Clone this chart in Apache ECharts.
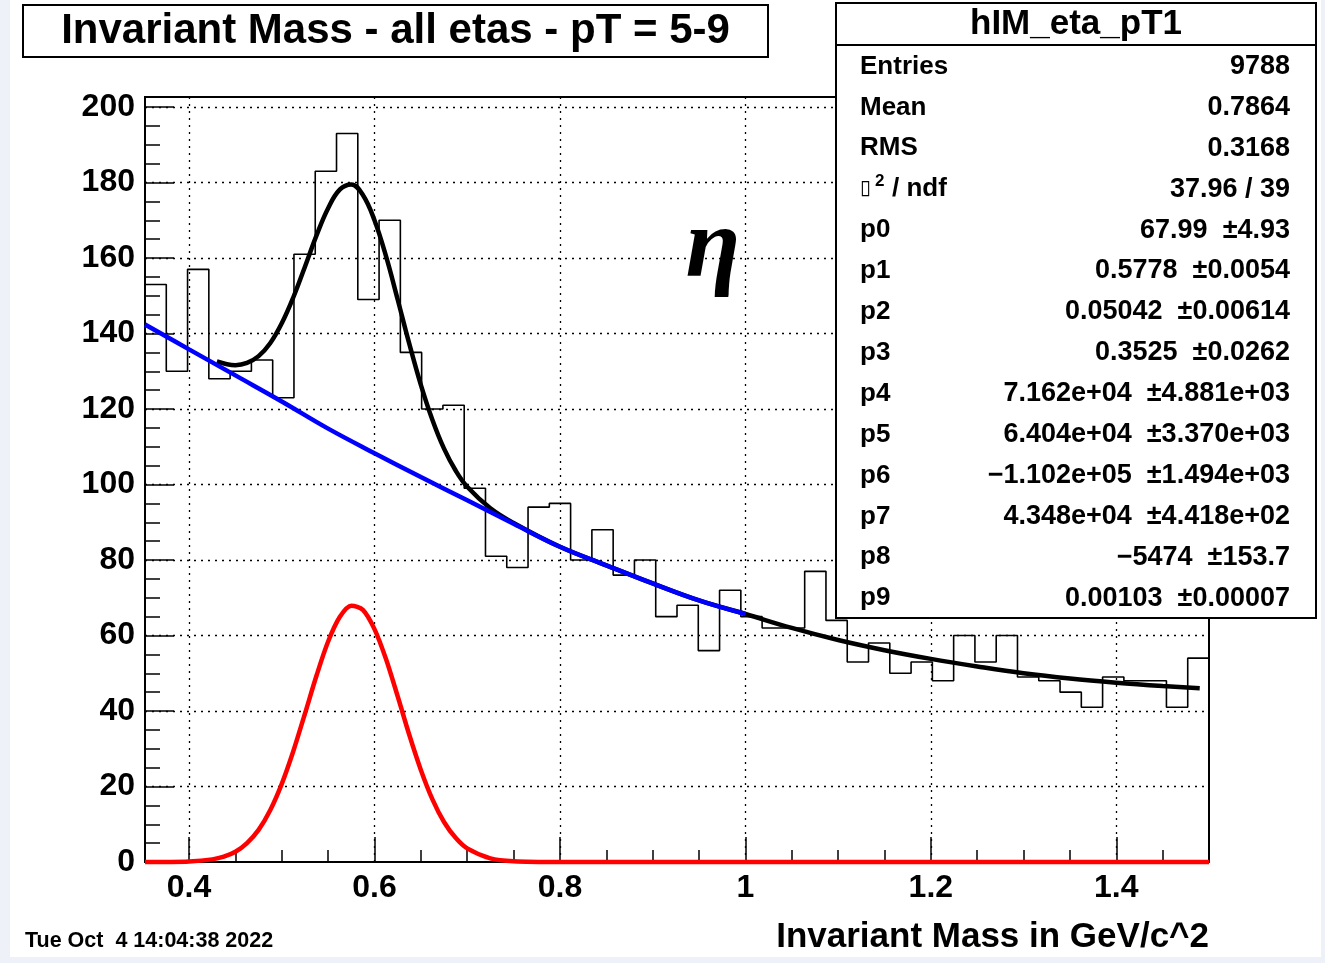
<!DOCTYPE html>
<html><head><meta charset="utf-8">
<script src="https://cdn.jsdelivr.net/npm/echarts@6/dist/echarts.min.js"></script>
<style>
html,body{margin:0;padding:0;background:#eef2f8;}
#paper{position:absolute;left:10px;top:0;width:1311px;height:957px;background:#fff;}
#chart{position:absolute;left:0;top:0;width:1325px;height:963px;}
</style></head><body>
<div id="paper"></div><div id="chart"></div>
<script>
// ---- data ----
const xMin = 0.3525;
const xMax = 1.5;
const binLow = 0.3525;
const binWidth = 0.02295;
const counts = [153,130,157,128,130,133,123,161,183,193,
                149,170,135,120,121,99,81,78,94,95,
                80,88,76,80,65,68,56,72,65,62,
                62,77,64,53,58,50,53,48,60,53,
                60,49,48,45,41,49,48,48,41,54];
const xTicks = [0.4,0.6,0.8,1.0,1.2,1.4];
const xTickLabels = ['0.4','0.6','0.8','1','1.2','1.4'];
const yTicks = [20,40,60,80,100,120,140,160,180,200];

// background fit (blue)
const bgX = [0.3525,0.4,0.45,0.5,0.55,0.6,0.65,0.7,0.75,0.8,0.85,0.9,0.95,1.0];
const bgY = [142.4,135.8,128.9,122.0,114.8,108.3,102.0,95.8,89.6,83.5,78.6,73.8,69.3,65.7];
// total fit (black)
const totX = [0.43,0.45,0.4625,0.475,0.4875,0.5,0.5125,0.525,0.5375,0.55,0.5625,0.575,0.5875,0.6,
              0.6125,0.625,0.6375,0.65,0.6625,0.675,0.6875,0.7,0.725,0.75,0.8,0.85,0.9,0.95,1.0,
              1.05,1.1,1.15,1.2,1.25,1.3,1.35,1.4,1.45,1.49];
const totY = [132.6,131.6,132.2,134.0,137.4,142.7,149.6,157.7,166.0,173.2,178.1,179.5,176.7,170.0,
              160.4,149.0,137.3,126.4,117.1,109.5,103.7,99.4,93.7,89.8,83.5,78.6,73.8,69.3,65.7,
              62.0,58.8,56.1,53.8,51.8,50.0,48.6,47.5,46.6,46.0];
// signal (red)
const sigX = [0.3525,0.375,0.4,0.425,0.4375,0.45,0.4625,0.475,0.4875,0.5,0.5125,0.525,0.5375,0.55,0.5625,
              0.575,0.5875,0.6,0.6125,0.625,0.6375,0.65,0.6625,0.675,0.6875,0.7,0.725,0.75,0.8,1.0,1.2,1.5];
const sigY = [0,0.02,0.13,0.7,1.4,2.7,5.0,8.5,13.7,20.7,29.4,39.3,49.4,58.4,64.9,
              67.9,66.8,61.7,53.7,43.9,33.7,24.4,16.6,10.6,6.4,3.6,0.96,0.2,0,0,0,0];

const statsTitle = 'hIM_eta_pT1';
const statsLabels = ['Entries','Mean','RMS','','p0','p1','p2','p3','p4','p5','p6','p7','p8','p9'];
const statsValues = ['9788','0.7864','0.3168','37.96 / 39','67.99  \u00b14.93','0.5778  \u00b10.0054',
  '0.05042  \u00b10.00614','0.3525  \u00b10.0262','7.162e+04  \u00b14.881e+03','6.404e+04  \u00b13.370e+03',
  '\u22121.102e+05  \u00b11.494e+03','4.348e+04  \u00b14.418e+02','\u22125474  \u00b1153.7','0.00103  \u00b10.00007'];

const titleText = 'Invariant Mass - all etas - pT = 5-9';
const xTitle = 'Invariant Mass in GeV/c^2';
const dateText = 'Tue Oct  4 14:04:38 2022';

// ---- build ----
const histData = counts.map((c,i)=>[+(binLow+i*binWidth).toFixed(5), c]);
histData.push([+(binLow+counts.length*binWidth).toFixed(5), counts[counts.length-1]]);
const zip = (xs,ys)=>xs.map((x,i)=>[x,ys[i]]);

const F = 'Liberation Sans, Arial, Helvetica, sans-serif';
const chart = echarts.init(document.getElementById('chart'), null, {renderer:'canvas'});

const graphic = [];
function txt(x,y,text,size,align,extra){
  graphic.push(Object.assign({type:'text', z:100, x:x, y:y, silent:true,
    style:{text:text, font:'bold '+size+'px '+F, fill:'#000', textAlign:align, align:align,
           textVerticalAlign:'middle', verticalAlign:'middle'}}, extra||{}));
}
// title box
graphic.push({type:'rect', z:99, shape:{x:23,y:5,width:745,height:52}, style:{fill:'#fff',stroke:'#000',lineWidth:2}});
txt(395.5, 31, titleText, 42, 'center');
// stats box
graphic.push({type:'rect', z:99, shape:{x:836,y:3,width:480,height:615}, style:{fill:'#fff',stroke:'#000',lineWidth:2}});
graphic.push({type:'line', z:100, shape:{x1:836,y1:45,x2:1316,y2:45}, style:{stroke:'#000',lineWidth:2}});
txt(1076, 24, statsTitle, 35, 'center');
statsLabels.forEach((l,i)=>{
  const y = 66.5 + i*40.9;
  if (l) txt(860, y, l, 26, 'left');
  txt(1290, y, statsValues[i], 27, 'right');
});
// chi2 label (rendered glyph box as in original)
graphic.push({type:'text', z:100, x:860, y:189, silent:true,
  style:{text:'\u25af', font:'20px DejaVu Sans', fill:'#000', textAlign:'left', align:'left', textVerticalAlign:'middle', verticalAlign:'middle'}});
txt(875, 181, '2', 17, 'left');
txt(892, 189.2, '/ ndf', 26, 'left');
// eta
graphic.push({type:'text', z:100, x:713, y:250, silent:true,
  style:{text:'\u03b7', font:'bold italic 100px Liberation Serif, Times New Roman, serif', fill:'#000',
         textAlign:'center', align:'center', textVerticalAlign:'middle', verticalAlign:'middle'}});
// axis title, date
txt(1209, 937, xTitle, 35, 'right');
txt(25, 941, dateText, 21.5, 'left');

const gridLines = [];
xTicks.forEach(v=>gridLines.push({xAxis:v}));
yTicks.forEach(v=>gridLines.push({yAxis:v}));

const option = {
  animation:false,
  backgroundColor:'transparent',
  grid:{left:145, right:116, top:97, bottom:101, show:true, borderColor:'#000', borderWidth:2, backgroundColor:'transparent'},
  xAxis:[
    {type:'value', min:xMin, max:xMax, position:'bottom',
     axisLine:{show:false}, splitLine:{show:false},
     axisTick:{show:true, inside:true, length:25, customValues:xTicks, lineStyle:{color:'#000',width:1.5}},
     axisLabel:{show:true, customValues:xTicks, margin:10, color:'#000', fontFamily:F, fontWeight:'bold', fontSize:32,
       formatter:(v)=>{const i=xTicks.findIndex(t=>Math.abs(t-v)<1e-6); return i>=0?xTickLabels[i]:'';}}},
    {type:'value', min:xMin, max:xMax, position:'bottom',
     axisLine:{show:false}, splitLine:{show:false}, axisLabel:{show:false},
     axisTick:{show:true, inside:true, length:12, customValues:[0.35,0.4,0.45,0.5,0.55,0.6,0.65,0.7,0.75,0.8,0.85,0.9,0.95,1.0,1.05,1.1,1.15,1.2,1.25,1.3,1.35,1.4,1.45,1.5].filter(v=>v>=xMin), lineStyle:{color:'#000',width:1.5}}}
  ],
  yAxis:[
    {type:'value', min:0, max:202.65, interval:20, position:'left',
     axisLine:{show:false}, splitLine:{show:false},
     axisTick:{show:true, inside:true, length:29, lineStyle:{color:'#000',width:1.5}},
     axisLabel:{show:true, showMaxLabel:false, margin:10, color:'#000', fontFamily:F, fontWeight:'bold', fontSize:32}},
    {type:'value', min:0, max:202.65, interval:5, position:'left',
     axisLine:{show:false}, splitLine:{show:false}, axisLabel:{show:false},
     axisTick:{show:true, inside:true, length:15, lineStyle:{color:'#000',width:1.5}}}
  ],
  graphic: graphic,
  series:[
    {type:'line', data:[], silent:true, z:1,
     markLine:{silent:true, symbol:['none','none'], label:{show:false}, animation:false,
       lineStyle:{color:'#000', type:[2,5], width:1.3}, data:gridLines}},
    {type:'line', data:histData, step:'end', symbol:'none', z:3, clip:true,
     lineStyle:{color:'#000', width:1.6}},
    {type:'line', data:zip(totX,totY), smooth:0.4, symbol:'none', z:4, clip:true,
     lineStyle:{color:'#000', width:4.5}},
    {type:'line', data:zip(bgX,bgY), smooth:0.4, symbol:'none', z:5, clip:true,
     lineStyle:{color:'#0000ff', width:4.5}},
    {type:'line', data:zip(sigX,sigY), smooth:0.3, symbol:'none', z:6, clip:false,
     lineStyle:{color:'#ff0000', width:4.5}}
  ]
};
chart.setOption(option);
</script>
</body></html>
